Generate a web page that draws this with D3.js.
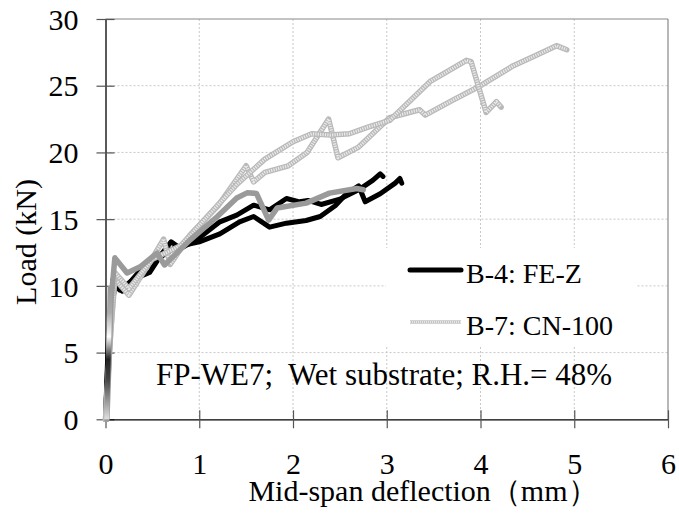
<!DOCTYPE html>
<html><head><meta charset="utf-8">
<script src="https://cdn.jsdelivr.net/npm/d3@7"></script>
<style>
html,body{margin:0;padding:0;background:#fff;}
svg{display:block;}
</style></head>
<body>
<svg id="c" width="679" height="520"></svg>
<script>
// ---- data ----
const xTicks = [0,1,2,3,4,5,6];
const yTicks = [0,5,10,15,20,25,30];
const seriesNames = ["B-4: FE-Z", "B-7: CN-100"];
// B-4 (black), two gauges
const b4a = [[0,0],[0.03,6],[0.08,10.5],[0.15,9.7],[0.3,10.5],[0.47,11],[0.6,12.4],[0.7,13.3],[0.8,12.8],[1.0,13.6],[1.22,14.8],[1.4,15.3],[1.58,16.05],[1.75,15.7],[1.93,16.55],[2.07,16.3],[2.16,16.4],[2.3,16.1],[2.5,16.5],[2.7,17.2],[2.85,17.9],[2.93,18.4],[2.96,18.2]];
const b4b = [[0,0],[0.04,7],[0.1,10],[0.18,9.6],[0.35,11],[0.55,12],[0.75,12.9],[1.0,13.3],[1.22,13.9],[1.43,14.8],[1.58,15.2],[1.75,14.4],[1.93,14.7],[2.14,14.9],[2.29,15.2],[2.45,16.0],[2.57,16.9],[2.7,17.5],[2.77,16.3],[2.93,16.9],[3.09,17.7],[3.14,18.05],[3.16,17.7]];
// B-7 (light grey), two gauges
const b7a = [[0,0],[0.05,6],[0.1,10.5],[0.25,9.3],[0.45,11.5],[0.62,13.5],[0.69,11.6],[0.9,13.8],[1.2,16.0],[1.5,19.0],[1.58,17.8],[1.7,18.5],[1.95,19.0],[2.15,20.0],[2.38,22.5],[2.48,19.6],[2.7,20.4],[3.03,22.6],[3.35,23.2],[3.41,22.8],[3.7,23.9],[4.0,25.0],[4.35,26.5],[4.6,27.3],[4.81,28.0],[4.92,27.7]];
const b7b = [[0,0],[0.06,7],[0.1,11],[0.25,9.8],[0.5,12],[0.8,13],[1.1,15.3],[1.4,17.6],[1.7,19.5],[2.0,20.8],[2.2,21.4],[2.4,21.3],[2.6,21.4],[2.8,21.9],[3.03,22.4],[3.46,25.3],[3.85,26.9],[3.9,26.8],[4.06,23.0],[4.17,23.8],[4.22,23.4]];
// unlabelled mid-grey curve
const gMid = [[0.015,0],[0.06,9],[0.10,12.1],[0.23,10.96],[0.37,11.43],[0.55,12.46],[0.63,11.57],[0.9,13.43],[1.19,15.18],[1.40,16.58],[1.51,16.97],[1.61,16.93],[1.74,14.93],[1.83,15.83],[2.14,16.2],[2.39,16.95],[2.68,17.3],[2.75,17.2]];
const startSeg = [[0.012,0],[0.05,10]];
const annotation = "FP-WE7;\u00a0 Wet substrate; R.H.= 48%";

const FONT = "'Liberation Serif', 'Times New Roman', serif";

// ---- layout ----
const svg = d3.select("#c");
const L = 105.5, R = 668, T = 19, B = 419.3;
const x = d3.scaleLinear().domain([0,6]).range([L,R]);
const y = d3.scaleLinear().domain([0,30]).range([B,T]);
const line = d3.line().x(d=>x(d[0])).y(d=>y(d[1]));

// grid
const g = svg.append("g");
g.selectAll(".hg").data(yTicks.filter(v=>v>0&&v<30)).join("line")
  .attr("x1",L).attr("x2",R).attr("y1",d=>y(d)).attr("y2",d=>y(d))
  .attr("stroke","#c8c8c8").attr("stroke-width",1).attr("stroke-dasharray","2,2");
g.selectAll(".vg").data(xTicks.filter(v=>v>0&&v<6)).join("line")
  .attr("y1",T).attr("y2",B).attr("x1",d=>x(d)).attr("x2",d=>x(d))
  .attr("stroke","#c8c8c8").attr("stroke-width",1).attr("stroke-dasharray","2,2");
// frame top/right
svg.append("line").attr("x1",L).attr("x2",R).attr("y1",T).attr("y2",T).attr("stroke","#888").attr("stroke-width",1.2);
svg.append("line").attr("x1",R).attr("x2",R).attr("y1",T).attr("y2",B).attr("stroke","#888").attr("stroke-width",1.2);

// legend background (covers grid)
svg.append("rect").attr("x",386).attr("y",248).attr("width",251).attr("height",97).attr("fill","#fff");

// axes
const yAxis = d3.axisLeft(y).tickValues(yTicks).tickSizeInner(9).tickSizeOuter(0).tickFormat(d3.format("d"));
const ya = svg.append("g").attr("transform",`translate(${L},0)`).call(yAxis).attr("font-family",FONT).attr("font-size",30);
ya.select(".domain").attr("stroke","#000").attr("stroke-width",1.3);
ya.selectAll(".tick line").attr("x2",9).attr("x1",-9).attr("stroke","#555").attr("stroke-width",1.2);
ya.selectAll(".tick text").attr("x",-27).attr("dy","0.34em").attr("fill","#000");

const xAxis = d3.axisBottom(x).tickValues(xTicks).tickSizeOuter(0).tickFormat(d3.format("d"));
const xa = svg.append("g").attr("transform",`translate(0,${B})`).call(xAxis).attr("font-family",FONT).attr("font-size",30);
xa.select(".domain").attr("stroke","#000").attr("stroke-width",1.3);
xa.selectAll(".tick line").attr("y1",-9).attr("y2",9).attr("stroke","#555").attr("stroke-width",1.2);
xa.selectAll(".tick text").attr("y",55).attr("dy",0).attr("fill","#000");

// series
const defs = svg.append("defs");
const grad = defs.append("linearGradient").attr("id","sg").attr("gradientUnits","userSpaceOnUse")
  .attr("x1",0).attr("x2",0).attr("y1",y(0)).attr("y2",y(10));
[[0,"#e0e0e0"],[0.3,"#444"],[0.45,"#222"],[0.62,"#fff"],[0.8,"#aaa"],[1,"#999"]].forEach(s=>grad.append("stop").attr("offset",s[0]).attr("stop-color",s[1]));

function blackLine(d){
  svg.append("path").datum(d).attr("d",line).attr("fill","none").attr("stroke","#000")
    .attr("stroke-width",5).attr("stroke-linejoin","round").attr("stroke-linecap","round");
}
function hatchLine(d,w){
  svg.append("path").datum(d).attr("d",line).attr("fill","none").attr("stroke","#b9b9b9")
    .attr("stroke-width",w).attr("stroke-linejoin","round").attr("stroke-linecap","round");
  svg.append("path").datum(d).attr("d",line).attr("fill","none").attr("stroke","#ebebeb")
    .attr("stroke-width",w-2.4).attr("stroke-dasharray","1.2,1.2").attr("stroke-linejoin","round");
}
blackLine(b4a); blackLine(b4b);
hatchLine(b7a,5.5); hatchLine(b7b,5.5);
svg.append("path").datum(gMid).attr("d",line).attr("fill","none").attr("stroke","#9a9a9a")
  .attr("stroke-width",5.5).attr("stroke-linejoin","round").attr("stroke-linecap","round");
svg.append("path").datum(startSeg).attr("d",line).attr("fill","none").attr("stroke","url(#sg)")
  .attr("stroke-width",5);

// legend
const leg = [{name:seriesNames[0],yy:270,type:"black"},{name:seriesNames[1],yy:322,type:"hatch"}];
leg.forEach(l=>{
  if(l.type==="black"){
    svg.append("line").attr("x1",410).attr("x2",461).attr("y1",l.yy).attr("y2",l.yy)
      .attr("stroke","#000").attr("stroke-width",5).attr("stroke-linecap","round");
  } else {
    svg.append("line").attr("x1",410).attr("x2",461).attr("y1",l.yy).attr("y2",l.yy)
      .attr("stroke","#c4c4c4").attr("stroke-width",3.5);
    svg.append("line").attr("x1",410).attr("x2",461).attr("y1",l.yy).attr("y2",l.yy)
      .attr("stroke","#eee").attr("stroke-width",1.5).attr("stroke-dasharray","1,1");
  }
  svg.append("text").attr("x",466).attr("y",l.yy+12.5).attr("font-family",FONT).attr("font-size",28).text(l.name);
});

// annotation
svg.append("text").attr("x",156).attr("y",385).attr("font-family",FONT).attr("font-size",31).text(annotation);

// axis titles
svg.append("text").attr("x",423).attr("y",501).attr("text-anchor","middle").attr("font-family",FONT).attr("font-size",30)
  .text("Mid-span deflection\uff08mm\uff09");
svg.append("text").attr("transform","translate(36,242) rotate(-90)").attr("text-anchor","middle")
  .attr("font-family",FONT).attr("font-size",30).text("Load (kN)");
</script>
</body></html>
